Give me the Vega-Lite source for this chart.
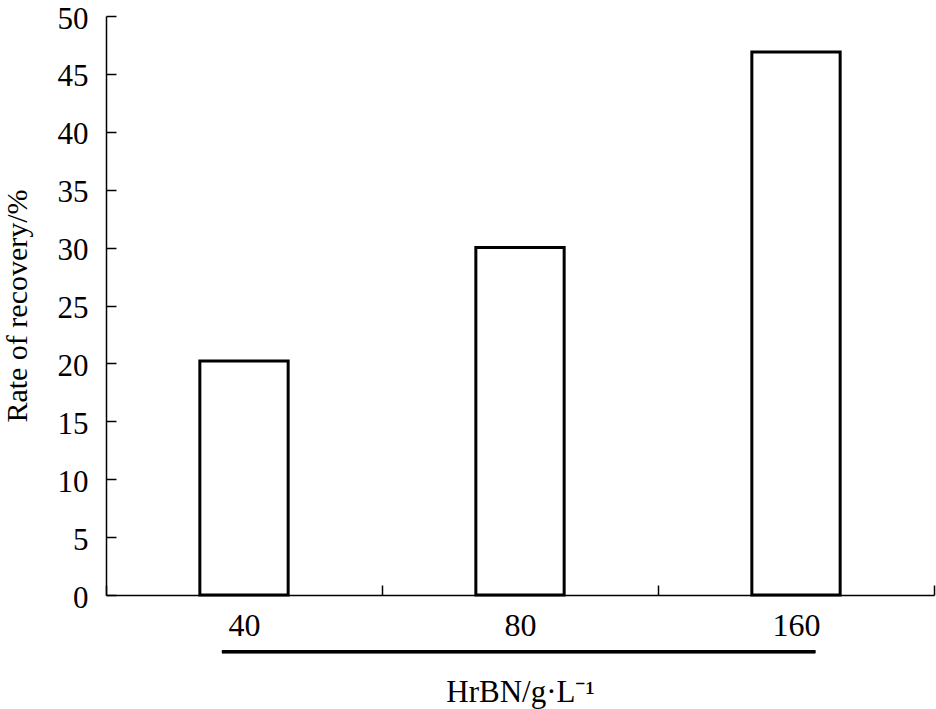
{
  "$schema": "https://vega.github.io/schema/vega-lite/v6.json",
  "width": 828,
  "height": 579,
  "autosize": {"type": "none"},
  "padding": {"left": 106, "top": 16, "right": 2, "bottom": 114},
  "background": "white",
  "config": {
    "view": {"stroke": null},
    "font": "Liberation Serif",
    "axis": {
      "labelFont": "Liberation Serif",
      "titleFont": "Liberation Serif",
      "labelColor": "black",
      "titleColor": "black",
      "domainColor": "black",
      "tickColor": "black",
      "domainWidth": 1.5,
      "tickWidth": 1.5,
      "grid": false,
      "titleFontWeight": "normal"
    }
  },
  "data": {
    "values": [
      {"dose": "40", "rate": 20.2},
      {"dose": "80", "rate": 30.0},
      {"dose": "160", "rate": 46.9}
    ]
  },
  "layer": [
    {
      "mark": {"type": "bar", "fill": "white", "stroke": "black", "strokeWidth": 3, "width": {"band": 0.32}},
      "encoding": {
        "x": {
          "field": "dose",
          "type": "ordinal",
          "sort": null,
          "scale": {"paddingInner": 0, "paddingOuter": 0},
          "axis": {
            "title": "HrBN/g·L⁻¹",
            "titleFontSize": 31,
            "titlePadding": 36,
            "labelFontSize": 32,
            "labelAngle": 0,
            "labelPadding": 25,
            "tickBand": "extent",
            "tickSize": -10,
            "ticks": true
          }
        },
        "y": {
          "field": "rate",
          "type": "quantitative",
          "scale": {"domain": [0, 50], "nice": false},
          "axis": {
            "title": "Rate of recovery/%",
            "titleFontSize": 30,
            "titlePadding": 25,
            "labelFontSize": 31,
            "labelPadding": 28,
            "labelOverlap": false,
            "labelBaseline": "alphabetic",
            "labelOffset": 12,
            "labelFlush": false,
            "values": [0, 5, 10, 15, 20, 25, 30, 35, 40, 45, 50],
            "tickSize": -10
          }
        }
      }
    },
    {
      "mark": {"type": "rule", "color": "black", "strokeWidth": 3, "clip": false},
      "encoding": {
        "x": {"datum": "40", "type": "ordinal", "bandPosition": 0.42},
        "x2": {"datum": "160", "bandPosition": 0.57},
        "y": {"datum": -4.9, "type": "quantitative"}
      }
    }
  ]
}
